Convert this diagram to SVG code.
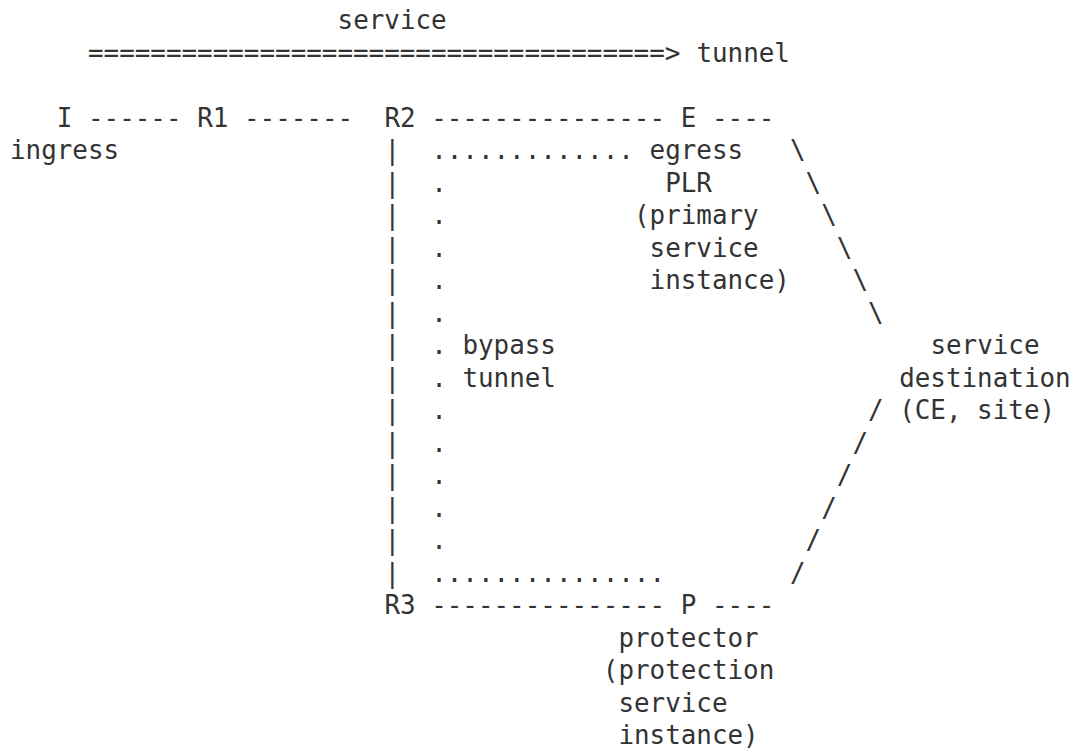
<svg xmlns="http://www.w3.org/2000/svg" width="1077" height="752" viewBox="0 0 1077 752">
<style>
text{font-family:"DejaVu Sans Mono","Liberation Mono",monospace;font-size:25.9px;fill:#333;}
</style>
<rect width="1077" height="752" fill="#fff"/>
<g id="labels">
<text x="337.6" y="29">service</text>
<text x="696.4" y="61.5">tunnel</text>
<text x="462.4" y="354">bypass</text>
<text x="462.4" y="386.5">tunnel</text>
</g>
<g id="node-I">
<text x="56.8" y="126.5">I</text>
<text x="10" y="159">ingress</text>
</g>
<g id="node-R1"><text x="197.2" y="126.5">R1</text></g>
<g id="node-R2"><text x="384.4" y="126.5">R2</text></g>
<g id="node-E">
<text x="680.8" y="126.5">E</text>
<text x="649.6" y="159">egress</text>
<text x="665.2" y="191.5">PLR</text>
<text x="634" y="224">(primary</text>
<text x="649.6" y="256.5">service</text>
<text x="649.6" y="289">instance)</text>
</g>
<g id="node-R3"><text x="384.4" y="614">R3</text></g>
<g id="node-P">
<text x="680.8" y="614">P</text>
<text x="618.4" y="646.5">protector</text>
<text x="602.8" y="679">(protection</text>
<text x="618.4" y="711.5">service</text>
<text x="618.4" y="744">instance)</text>
</g>
<g id="node-CE">
<text x="930.4" y="354">service</text>
<text x="899.2" y="386.5">destination</text>
<text x="899.2" y="419">(CE, site)</text>
</g>
<g id="connectors">
<text x="88" y="61.5">=====================================&gt;</text>
<text x="88" y="126.5">------</text>
<text x="244" y="126.5">-------</text>
<text x="431.2" y="126.5">---------------</text>
<text x="712" y="126.5">----</text>
<text x="431.2" y="614">---------------</text>
<text x="712" y="614">----</text>
<text x="431.2" y="159">.............</text>
<text x="431.2" y="581.5">...............</text>
<text x="384.4" y="159">|</text>
<text x="384.4" y="191.5">|</text>
<text x="384.4" y="224">|</text>
<text x="384.4" y="256.5">|</text>
<text x="384.4" y="289">|</text>
<text x="384.4" y="321.5">|</text>
<text x="384.4" y="354">|</text>
<text x="384.4" y="386.5">|</text>
<text x="384.4" y="419">|</text>
<text x="384.4" y="451.5">|</text>
<text x="384.4" y="484">|</text>
<text x="384.4" y="516.5">|</text>
<text x="384.4" y="549">|</text>
<text x="384.4" y="581.5">|</text>
<text x="431.2" y="191.5">.</text>
<text x="431.2" y="224">.</text>
<text x="431.2" y="256.5">.</text>
<text x="431.2" y="289">.</text>
<text x="431.2" y="321.5">.</text>
<text x="431.2" y="354">.</text>
<text x="431.2" y="386.5">.</text>
<text x="431.2" y="419">.</text>
<text x="431.2" y="451.5">.</text>
<text x="431.2" y="484">.</text>
<text x="431.2" y="516.5">.</text>
<text x="431.2" y="549">.</text>
<text x="790" y="159">\</text>
<text x="805.6" y="191.5">\</text>
<text x="821.2" y="224">\</text>
<text x="836.8" y="256.5">\</text>
<text x="852.4" y="289">\</text>
<text x="868" y="321.5">\</text>
<text x="868" y="419">/</text>
<text x="852.4" y="451.5">/</text>
<text x="836.8" y="484">/</text>
<text x="821.2" y="516.5">/</text>
<text x="805.6" y="549">/</text>
<text x="790" y="581.5">/</text>
</g>
</svg>
